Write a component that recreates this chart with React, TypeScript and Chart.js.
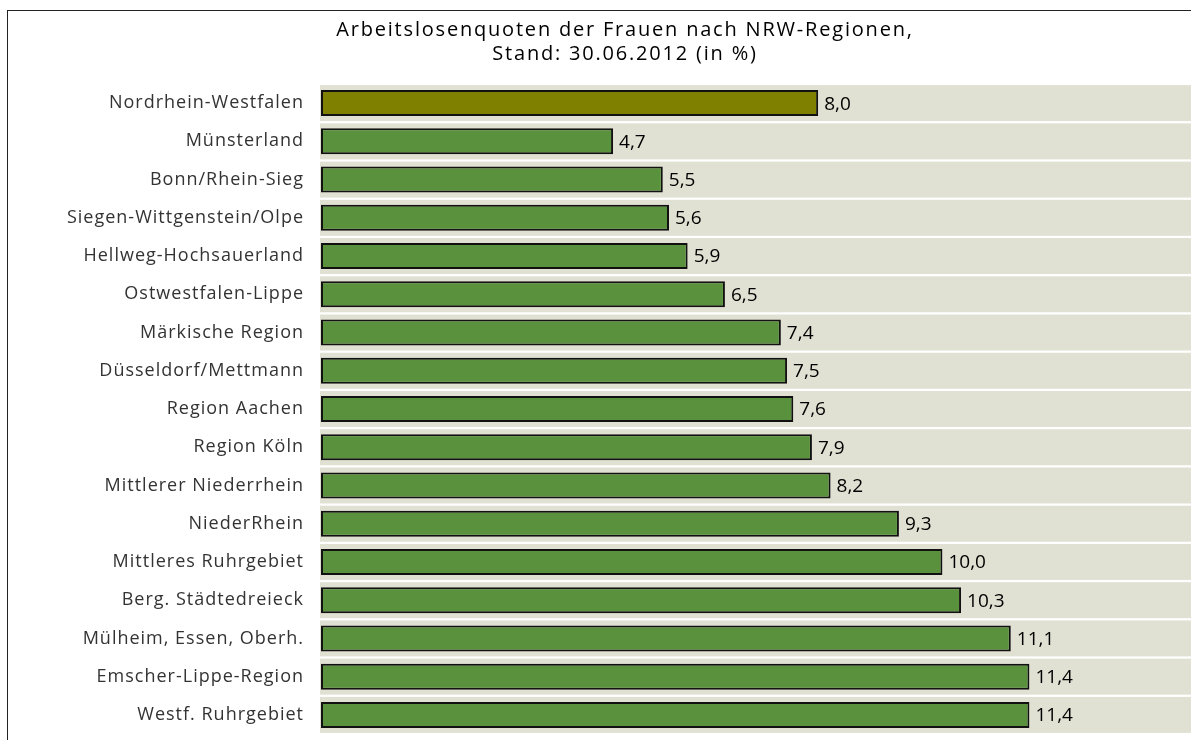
import React, { useEffect, useRef } from "react";
import { Chart, registerables } from "chart.js";

Chart.register(...registerables);

const categories = [
  "Nordrhein-Westfalen",
  "Münsterland",
  "Bonn/Rhein-Sieg",
  "Siegen-Wittgenstein/Olpe",
  "Hellweg-Hochsauerland",
  "Ostwestfalen-Lippe",
  "Märkische Region",
  "Düsseldorf/Mettmann",
  "Region Aachen",
  "Region Köln",
  "Mittlerer Niederrhein",
  "NiederRhein",
  "Mittleres Ruhrgebiet",
  "Berg. Städtedreieck",
  "Mülheim, Essen, Oberh.",
  "Emscher-Lippe-Region",
  "Westf. Ruhrgebiet",
];

const values = [8.0, 4.7, 5.5, 5.6, 5.9, 6.5, 7.4, 7.5, 7.6, 7.9, 8.2, 9.3, 10.0, 10.3, 11.1, 11.4, 11.4];

const titleLines = ["Arbeitslosenquoten der Frauen nach NRW-Regionen,", "Stand: 30.06.2012 (in %)"];

const FONT = "'Open Sans', 'Noto Sans', sans-serif";
const OLIVE = "#808000";
const GREEN = "#5a913d";
const BAND = "#e0e1d2";

export default function App() {
  const ref = useRef<HTMLCanvasElement | null>(null);

  useEffect(() => {
    if (!ref.current) return;
    const spacingPlugin = {
      id: "spacing",
      beforeDraw(chart: any) {
        chart.ctx.letterSpacing = "1px";
      },
    };
    const bandPlugin = {
      id: "bands",
      beforeDatasetsDraw(chart: any) {
        const { ctx, chartArea, scales } = chart;
        const y = scales.y;
        ctx.save();
        ctx.fillStyle = BAND;
        categories.forEach((_, i) => {
          const cy = y.getPixelForValue(i);
          ctx.fillRect(chartArea.left - 1, cy - 18, chartArea.right - chartArea.left + 1, 36);
        });
        ctx.restore();
      },
    };
    const labelPlugin = {
      id: "valueLabels",
      afterDatasetsDraw(chart: any) {
        const { ctx } = chart;
        const meta = chart.getDatasetMeta(0);
        ctx.save();
        ctx.letterSpacing = "0px";
        ctx.fillStyle = "#000";
        ctx.font = `19px ${FONT}`;
        ctx.textBaseline = "middle";
        ctx.textAlign = "left";
        meta.data.forEach((bar: any, i: number) => {
          ctx.fillText(values[i].toFixed(1).replace(".", ","), bar.x + 6, bar.y + 1);
        });
        ctx.restore();
      },
    };
    const chart = new Chart(ref.current, {
      type: "bar",
      data: {
        labels: categories,
        datasets: [
          {
            data: values,
            backgroundColor: values.map((_, i) => (i === 0 ? OLIVE : GREEN)),
            borderColor: "#111",
            borderWidth: 2,
            borderSkipped: false,
            barPercentage: 0.68,
            categoryPercentage: 1,
          },
        ],
      },
      options: {
        indexAxis: "y",
        responsive: true,
        maintainAspectRatio: false,
        animation: false,
        devicePixelRatio: 1,
        layout: { padding: { top: 84, bottom: 6, left: 0, right: 0 } },
        plugins: {
          legend: { display: false },
          tooltip: { enabled: false },
          title: { display: false },
        },
        scales: {
          x: { display: false, min: 0, max: 14 },
          y: {
            afterFit(scale: any) {
              scale.width = 321;
              scale.paddingTop = 0;
              scale.paddingBottom = 0;
            },
            grid: { display: false, drawTicks: false },
            border: { display: false },
            ticks: { color: "#333", font: { size: 18, family: FONT }, padding: 17 },
          },
        },
      },
      plugins: [spacingPlugin, bandPlugin, labelPlugin],
    } as any);
    return () => chart.destroy();
  }, []);

  return (
    <div style={{ position: "absolute", left: 0, top: 0, width: 1191, height: 740, overflow: "hidden", background: "#fff" }}>
      <div
        style={{
          position: "absolute",
          left: 7,
          top: 10,
          width: 1400,
          height: 900,
          borderLeft: "1.5px solid #222",
          borderTop: "1.5px solid #222",
        }}
      />
      <div style={{ position: "absolute", left: 0, top: 0, width: 1191, height: 740 }}>
        <canvas ref={ref} />
      </div>
      <div
        style={{
          position: "absolute",
          left: 0,
          top: 17,
          width: 1250,
          textAlign: "center",
          fontFamily: FONT,
          fontSize: 20,
          lineHeight: "23.5px",
          letterSpacing: "1.8px",
          color: "#000",
        }}
      >
        {titleLines.map((t) => (
          <div key={t}>{t}</div>
        ))}
      </div>
    </div>
  );
}
